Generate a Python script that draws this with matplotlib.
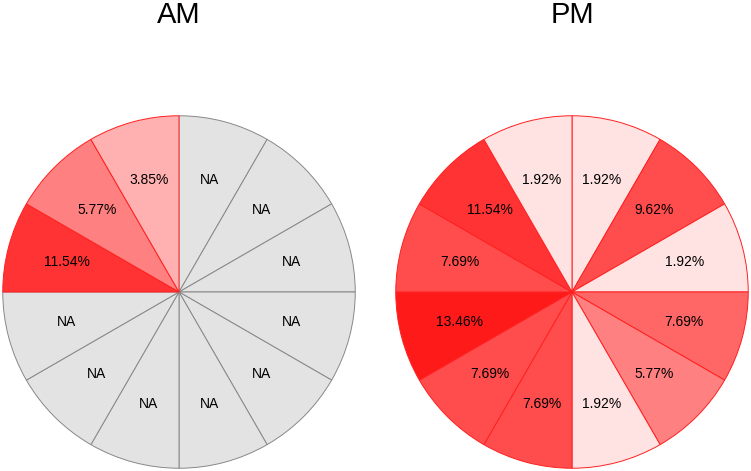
import matplotlib.pyplot as plt

plt.rcParams['font.family'] = ['Liberation Sans', 'DejaVu Sans']

# 12 clock slices, clockwise from 12 o'clock
hours = ['12-1', '1-2', '2-3', '3-4', '4-5', '5-6',
         '6-7', '7-8', '8-9', '9-10', '10-11', '11-12']
am_pct = [None, None, None, None, None, None,
          None, None, None, 11.54, 5.77, 3.85]
pm_pct = [1.92, 9.62, 1.92, 7.69, 5.77, 1.92,
          7.69, 7.69, 13.46, 7.69, 11.54, 1.92]
am_colors = ['#e3e3e3'] * 9 + ['#ff3333', '#ff8080', '#ffb0b0']
pm_colors = ['#ffe3e3', '#ff4d4d', '#ffe3e3', '#ff6666', '#ff8080', '#ffe3e3',
             '#ff4d4d', '#ff4d4d', '#ff1a1a', '#ff4d4d', '#ff3333', '#ffe3e3']

fig = plt.figure(figsize=(7.51, 4.71), dpi=100)
W, H = 751, 471
R = 178


def clock_pie(cx, cy, pct, colors, title):
    ax = fig.add_axes([(cx - R) / W, (H - cy - R) / H, 2 * R / W, 2 * R / H])
    labels = ['NA' if v is None else f'{v:.2f}%' for v in pct]
    wedges, texts = ax.pie([1] * len(hours), labels=labels, colors=colors,
                           startangle=90, counterclock=False, radius=1,
                           labeldistance=0.66,
                           textprops=dict(fontsize=10, ha='center', va='center'))
    for w, v in zip(wedges, pct):
        w.set_edgecolor('#888888' if v is None else '#ff2020')
        w.set_linewidth(0.7)
    ax.set_xlim(-1.01, 1.01)
    ax.set_ylim(-1.01, 1.01)
    ax.axis('off')
    fig.text(cx / W, 1 - 15 / H, title, fontsize=21, ha='center', va='center')


clock_pie(179, 292, am_pct, am_colors, 'AM')
clock_pie(572, 292, pm_pct, pm_colors, 'PM')

fig.savefig('out.png', dpi=100)
